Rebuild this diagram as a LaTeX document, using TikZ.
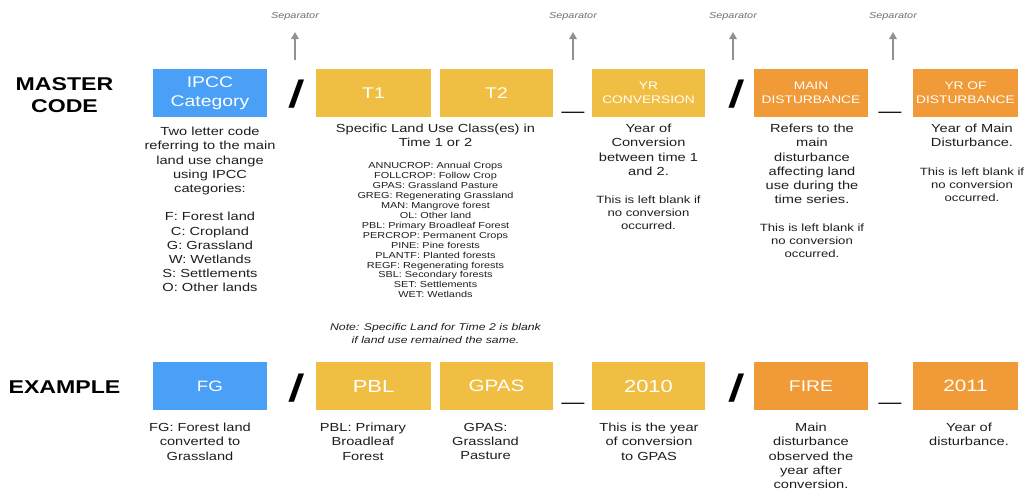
\documentclass[tikz,border=0pt]{standalone}
\usepackage{fontspec}
\setmainfont{Liberation Sans}[FakeStretch=1.25]
\newfontfamily\slashfont{Liberation Sans Bold}[FakeStretch=1.25,FakeSlant=0.12]
\usetikzlibrary{arrows.meta}
\definecolor{ipccblue}{RGB}{74,160,246}
\definecolor{landyellow}{RGB}{240,190,66}
\definecolor{distorange}{RGB}{240,154,56}
\definecolor{desctext}{RGB}{30,30,30}
\definecolor{sepgray}{RGB}{145,145,145}
\definecolor{seplabel}{RGB}{110,110,110}
\begin{document}
\begin{tikzpicture}[x=1pt,y=-1pt,
  box/.style={minimum height=48pt, inner sep=0pt, text=white, align=center},
  bigbox/.style={box, font=\fontsize{15.5}{19}\selectfont},
  smallbox/.style={box, font=\fontsize{11}{14}\selectfont},
  desc/.style={anchor=north, inner sep=0pt, align=center, text=desctext, font=\fontsize{11.7}{14.2}\selectfont},
  blanknote/.style={anchor=north, inner sep=0pt, align=center, text=desctext, font=\fontsize{10.5}{12.7}\selectfont},
  rowlabel/.style={inner sep=0pt, align=center, text=black, font=\fontsize{18.5}{22}\selectfont\bfseries},
  slashmark/.style={anchor=base, inner sep=0pt, text=black, font=\fontsize{38}{38}\slashfont},
  undermark/.style={anchor=base, inner sep=0pt, text=black, font=\fontsize{32}{32}\selectfont\bfseries},
  seplab/.style={inner sep=0pt, text=seplabel, font=\fontsize{8.7}{10}\selectfont\itshape},
  separrow/.style={draw=sepgray, line width=1.6pt, -{Triangle[length=7pt,width=7.5pt]}}
]
\useasboundingbox (0,0) rectangle (1026,491);

% row labels
\node[rowlabel] (master) at (64.5,95) {MASTER\\CODE};
\node[rowlabel] (example) at (64.5,387.5) {EXAMPLE};

% master code boxes
\node[bigbox, fill=ipccblue, minimum width=114pt] (ipcc) at (210,93) {IPCC\\Category};
\node[bigbox, fill=landyellow, minimum width=115pt] (t1) at (373.5,93) {T1};
\node[bigbox, fill=landyellow, minimum width=113pt] (t2) at (496.5,93) {T2};
\node[smallbox, fill=landyellow, minimum width=113pt] (yrc) at (648.5,93) {YR\\CONVERSION};
\node[smallbox, fill=distorange, minimum width=114pt] (maind) at (811,93) {MAIN\\DISTURBANCE};
\node[smallbox, fill=distorange, minimum width=105pt] (yrd) at (965.5,93) {YR OF\\DISTURBANCE};

% separators master row
\node[slashmark] (sl1) at (295,107) {/};
\node[undermark] (us1) at (573,109) {\_};
\node[slashmark] (sl2) at (735,107) {/};
\node[undermark] (us2) at (890,109) {\_};

% separator arrows
\coordinate (s1b) at (295,60); \coordinate (s1t) at (295,32);
\coordinate (s2b) at (573,60); \coordinate (s2t) at (573,32);
\coordinate (s3b) at (733,60); \coordinate (s3t) at (733,32);
\coordinate (s4b) at (893,60); \coordinate (s4t) at (893,32);
\node[seplab] (l1) at (295,16) {Separator};
\node[seplab] (l2) at (573,16) {Separator};
\node[seplab] (l3) at (733,16) {Separator};
\node[seplab] (l4) at (893,16) {Separator};
\draw[separrow] (s1b) -- (s1t);
\draw[separrow] (s2b) -- (s2t);
\draw[separrow] (s3b) -- (s3t);
\draw[separrow] (s4b) -- (s4t);

% master descriptions
\node[desc] (ipccdesc) at (210,127) {Two letter code\\referring to the main\\land use change\\using IPCC\\categories:\\[14.2pt]F: Forest land\\C: Cropland\\G: Grassland\\W: Wetlands\\S: Settlements\\O: Other lands};
\node[desc] (tdesc) at (435.5,124) {Specific Land Use Class(es) in\\Time 1 or 2};
\node[anchor=north, inner sep=0pt, align=center, text=desctext, font=\fontsize{8.7}{9.95}\selectfont] (tlist) at (435.5,162) {ANNUCROP: Annual Crops\\FOLLCROP: Follow Crop\\GPAS: Grassland Pasture\\GREG: Regenerating Grassland\\MAN: Mangrove forest\\OL: Other land\\PBL: Primary Broadleaf Forest\\PERCROP: Permanent Crops\\PINE: Pine forests\\PLANTF: Planted forests\\REGF: Regenerating forests\\SBL: Secondary forests\\SET: Settlements\\WET: Wetlands};
\node[anchor=north, inner sep=0pt, align=center, text=desctext, font=\fontsize{9.8}{13}\selectfont\itshape] (tnote) at (435.5,323) {Note: Specific Land for Time 2 is blank\\if land use remained the same.};

\node[desc] (yrcdesc) at (648.5,124) {Year of\\Conversion\\between time 1\\and 2.};
\node[blanknote] (yrcnote) at (648.5,196) {This is left blank if\\no conversion\\occurred.};
\node[desc] (mainddesc) at (812,124) {Refers to the\\main\\disturbance\\affecting land\\use during the\\time series.};
\node[blanknote] (maindnote) at (812,224) {This is left blank if\\no conversion\\occurred.};
\node[desc] (yrddesc) at (972,124) {Year of Main\\Disturbance.};
\node[blanknote] (yrdnote) at (972,168) {This is left blank if\\no conversion\\occurred.};

% example boxes
\node[box, fill=ipccblue, minimum width=114pt, font=\fontsize{15}{18}\selectfont] (fg) at (210,386) {FG};
\node[box, fill=landyellow, minimum width=115pt, font=\fontsize{17.5}{20}\selectfont] (pbl) at (373.5,386) {PBL};
\node[box, fill=landyellow, minimum width=113pt, font=\fontsize{16.5}{20}\selectfont] (gpas) at (496.5,386) {GPAS};
\node[box, fill=landyellow, minimum width=113pt, font=\fontsize{17.5}{20}\selectfont] (y2010) at (648.5,386) {2010};
\node[box, fill=distorange, minimum width=114pt, font=\fontsize{15.5}{20}\selectfont] (fire) at (811,386) {FIRE};
\node[box, fill=distorange, minimum width=105pt, font=\fontsize{16.5}{20}\selectfont] (y2011) at (965.5,386) {2011};

% separators example row
\node[slashmark] (sl3) at (295,401.5) {/};
\node[undermark] (us3) at (573,400) {\_};
\node[slashmark] (sl4) at (735,401.5) {/};
\node[undermark] (us4) at (890,400) {\_};

% example descriptions
\node[desc] (fgdesc) at (200,423) {FG: Forest land\\converted to\\Grassland};
\node[desc] (pbldesc) at (363,423) {PBL: Primary\\Broadleaf\\Forest};
\node[desc] (gpasdesc) at (485.5,423) {GPAS:\\Grassland\\Pasture};
\node[desc] (y2010desc) at (649,423) {This is the year\\of conversion\\to GPAS};
\node[desc] (firedesc) at (811,423) {Main\\disturbance\\observed the\\year after\\conversion.};
\node[desc] (y2011desc) at (969,423) {Year of\\disturbance.};
\end{tikzpicture}
\end{document}
